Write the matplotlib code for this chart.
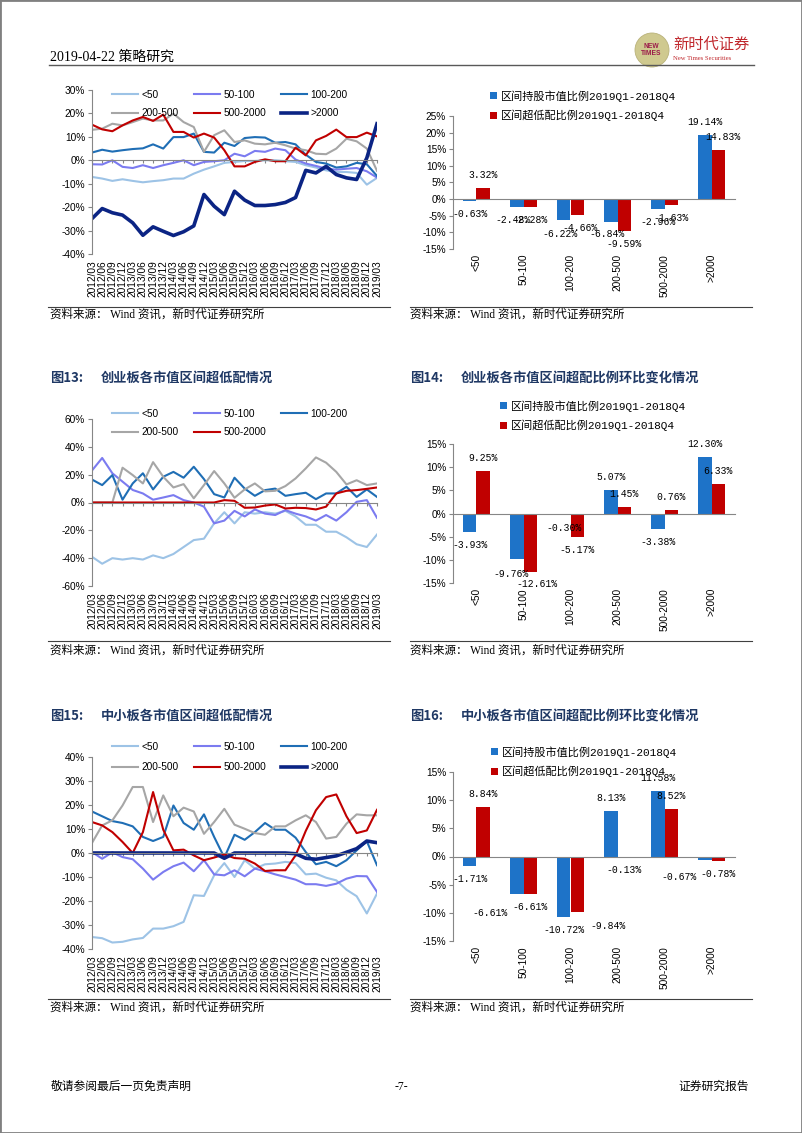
import matplotlib
matplotlib.use('Agg')
import matplotlib.pyplot as plt
import numpy as np
from matplotlib.lines import Line2D
from matplotlib.patches import Ellipse, Rectangle
from matplotlib.ticker import FuncFormatter
from matplotlib.transforms import blended_transform_factory

plt.rcParams['font.family'] = ['Liberation Sans', 'Noto Sans CJK SC']
plt.rcParams['axes.unicode_minus'] = False

# ---- data -------------------------------------------------------------
QUARTERS = ['2012/03', '2012/06', '2012/09', '2012/12', '2013/03', '2013/06',
            '2013/09', '2013/12', '2014/03', '2014/06', '2014/09', '2014/12',
            '2015/03', '2015/06', '2015/09', '2015/12', '2016/03', '2016/06',
            '2016/09', '2016/12', '2017/03', '2017/06', '2017/09', '2017/12',
            '2018/03', '2018/06', '2018/09', '2018/12', '2019/03']
BANDS = ['<50', '50-100', '100-200', '200-500', '500-2000', '>2000']

# top chart (continued from previous page)
ALL_LT50 = [-7.1, -7.8, -8.8, -8.1, -8.8, -9.4, -8.9, -8.5, -7.8, -7.8, -5.7, -4.0, -2.6, -1.1, -0.7,
            -0.3, -0.3, 0.0, 0.0, -0.4, -0.7, -2.1, -3.1, -4.3, -5.0, -5.0, -5.4, -10.4, -7.5]
ALL_50_100 = [-1.7, -1.8, 0.0, -2.8, -3.3, -2.1, -3.3, -2.1, -1.1, 0.0, -2.1, -0.7, -0.4, 0.0, 2.8,
              1.7, 4.0, 3.6, 5.0, 4.3, 0.3, -1.4, -2.4, -3.6, -4.0, -3.6, -3.3, -4.7, -7.4]
ALL_100_200 = [3.3, 4.5, 3.7, 4.3, 4.8, 5.1, 6.8, 5.0, 9.9, 9.9, 11.4, 3.6, 3.3, 7.5, 6.1,
               9.5, 9.9, 9.7, 7.5, 7.8, 6.8, 2.4, -0.7, -1.4, -3.1, -2.6, -1.1, -1.7, -6.7]
ALL_200_500 = [13.0, 13.5, 15.6, 14.9, 16.3, 17.8, 17.0, 17.0, 19.9, 16.3, 14.2, 3.6, 10.7, 12.8, 7.8,
               8.5, 7.1, 6.8, 7.5, 6.4, 5.0, 4.3, 2.8, 2.6, 5.0, 9.2, 8.1, 5.0, -4.5]
ALL_500_2000 = [15.2, 13.2, 12.4, 14.9, 17.0, 18.5, 16.8, 19.5, 12.1, 12.1, 9.7, 11.4, 9.7, 4.3, -2.6,
                -2.6, -0.7, 0.4, -0.4, -0.4, 5.4, 2.1, 8.5, 10.4, 13.1, 9.9, 9.9, 11.8, 10.2]
ALL_GT2000 = [-24.9, -20.6, -22.4, -23.4, -26.7, -32.0, -28.4, -30.3, -32.1, -30.5, -28.0, -14.6, -19.6,
              -23.2, -13.2, -17.0, -19.3, -19.3, -18.9, -18.0, -15.9, -4.3, -5.4, -2.6, -6.1, -7.5,
              -8.2, 1.0, 15.6]

# 创业板
GEM_LT50 = [-39, -44, -40, -41, -40, -41, -38, -40, -37, -32, -27, -26, -15, -7, -15,
            -7, -8, -7, -8, -6, -10, -16, -16, -21, -21, -25, -30, -32, -23]
GEM_50_100 = [23, 32, 21, 15, 9, 6.5, 2, 3.6, 5.3, 1.7, 0, -3, -15, -13, -6,
              -10, -5, -8, -9, -5.5, -8, -10, -13, -9, -13, -7, 0.5, 1.7, -11]
GEM_100_200 = [16.5, 12.5, 19.7, 2, 13.7, 21, 9.4, 18.5, 22, 17.8, 25.7, 16.8, 6, 3.6, 17.8,
               10, 4.8, 8.9, 10, 4.8, 6, 7, 2.4, 6.5, 6.5, 11.3, 4, 9.4, 4]
GEM_200_500 = [0, 0, 0, 25, 19.7, 13.7, 29, 18.5, 10.8, 13.2, 3, 12.5, 22.6, 13.7, 3.4,
               9.4, 13.7, 8, 8.4, 11.8, 17.3, 24.5, 32.4, 28.6, 22, 13, 16, 12.5, 13.7]
GEM_500_2000 = [0, 0, 0, 0, 0, 0, 0, 0, 0, 0, 0, 0, 0, 1.7, 1.2,
                -3.8, -3.6, -2.2, -1.4, -4.3, -3.8, -4.0, -5.0, -3.0, 6.5, 8.4, 8.9, 9.8, 10.8]

# 中小板
SME_LT50 = [-35, -35.5, -37.3, -37, -36, -35.4, -31.5, -31.5, -30.5, -28.7, -17.6, -17.9, -9.3, -4.2,
            -10, -3, -6.5, -4.7, -4.4, -3.7, -4.2, -8.9, -8.6, -10.3, -11.4, -15.3, -18, -25.2, -16.9]
SME_50_100 = [0.4, -2.4, 0.3, -1.7, -2.6, -6.5, -11.1, -7.9, -5.5, -4, -7.6, -3, -8.9, -9.3, -7.2,
              -9.7, -6.5, -7.6, -8.9, -10, -11.1, -13, -13, -13.7, -12.8, -10.7, -9.6, -9.7, -16.2]
SME_100_200 = [17.3, 15.3, 13.3, 12.5, 11.1, 6.7, 5, 6.7, 19.8, 12.5, 9.7, 16.1, 6.7, -1.9, 7.6,
               5.5, 8.7, 12.5, 9.7, 9.7, 6.4, 0.4, -4.7, -3.7, -5.5, -3, 1.1, 4.9, -5.1]
SME_200_500 = [4.2, 11.5, 13.6, 19.8, 27.5, 27.5, 12.9, 24, 15.3, 18.9, 17.3, 8, 12.9, 18.4, 11.8,
               10.1, 8.3, 7.6, 11.1, 11.1, 13.6, 15.7, 12.9, 6, 6.7, 12.2, 16.1, 15.7, 15.7]
SME_500_2000 = [12.9, 11.5, 8.7, 4.6, 0, 8.7, 25.4, 9.7, 1.1, 1.4, -1, -3, -1.9, -0.6, -2.1,
                -2.4, -4.4, -7.5, -7.2, -7.2, -1, 9.2, 17.8, 23.3, 24.4, 15.3, 8.3, 9.4, 18]
SME_GT2000 = [0, 0, 0, 0, 0, 0, 0, 0, 0, 0, 0, 0, 0, -2.2, 0,
              0, 0, 0, 0, 0, -0.3, -2.2, -2.6, -1.9, -1.2, 0.3, 1.8, 5, 4.3]

# bar charts: change 2019Q1 vs 2018Q4
ALL_HELD = [-0.63, -2.48, -6.22, -6.84, -2.96, 19.14]
ALL_TILT = [3.32, -2.28, -4.66, -9.59, -1.63, 14.83]
GEM_HELD = [-3.93, -9.76, -0.30, 5.07, -3.38, 12.30]
GEM_TILT = [9.25, -12.61, -5.17, 1.45, 0.76, 6.33]
SME_HELD = [-1.71, -6.61, -10.72, 8.13, 11.58, -0.67]
SME_TILT = [8.84, -6.61, -9.84, -0.13, 8.52, -0.78]

LEG_HELD = '区间持股市值比例2019Q1-2018Q4'
LEG_TILT = '区间超低配比例2019Q1-2018Q4'

# ---- styles -----------------------------------------------------------
LINE_COLORS = {'<50': '#9dc3e6', '50-100': '#7b7bf0', '100-200': '#1f6eb5',
               '200-500': '#a6a6a6', '500-2000': '#c00000', '>2000': '#0b2484'}
BAR_BLUE = '#1e73c8'
BAR_RED = '#c00000'
AXIS = '#868686'
TITLE = '#1f3864'
SERIF = ['Liberation Serif', 'Noto Sans CJK SC']
CJK = ['Noto Sans CJK SC', 'DejaVu Sans']
MONO = ['Liberation Mono', 'Noto Sans CJK SC']

W, H = 802, 1133
fig = plt.figure(figsize=(W / 100, H / 100), dpi=100)
pct = FuncFormatter(lambda v, p: f'{v:.0f}%')


def fx(px):
    return px / W


def fy(py):
    return 1 - py / H


def add_box(left, top, right, bottom):
    ax = fig.add_axes([fx(left), fy(bottom), (right - left) / W, (bottom - top) / H])
    ax.patch.set_alpha(0)
    return ax


def hline(x0, x1, y, lw=0.8, color='#404040'):
    fig.add_artist(Line2D([fx(x0), fx(x1)], [fy(y), fy(y)],
                          transform=fig.transFigure, lw=lw, color=color))


def style_axes(ax):
    for s in ['top', 'right']:
        ax.spines[s].set_visible(False)
    for s in ['left', 'bottom']:
        ax.spines[s].set_color(AXIS)
        ax.spines[s].set_linewidth(0.8)
    ax.spines['bottom'].set_position(('data', 0))
    ax.tick_params(axis='y', labelsize=7.3, length=3, width=0.8, pad=2, color=AXIS)


def line_chart(box, series, ylim, step, legend_at, spacing):
    ax = add_box(*box)
    x = np.arange(len(QUARTERS))
    handles = []
    for name, values in series:
        h, = ax.plot(x, values, color=LINE_COLORS[name],
                     lw=2.6 if name == '>2000' else 1.5, label=name)
        handles.append(h)
    ax.set_xlim(0, len(QUARTERS) - 1)
    ax.set_ylim(*ylim)
    ax.set_yticks(np.arange(ylim[0], ylim[1] + step, step))
    ax.yaxis.set_major_formatter(pct)
    style_axes(ax)
    ax.set_xticks(x)
    ax.set_xticklabels([])
    ax.tick_params(axis='x', length=2.5, width=0.8, color=AXIS)
    tr = blended_transform_factory(ax.transData, ax.transAxes)
    off = 6 / (box[3] - box[1])
    for i, q in enumerate(QUARTERS):
        ax.text(i, -off, q, transform=tr, rotation=90, ha='center', va='top', fontsize=7.3)
    # legend fills column-wise, reorder so it reads row by row
    order = [i for i in [0, 3, 1, 4, 2, 5] if i < len(handles)]
    ax.legend([handles[i] for i in order], [handles[i].get_label() for i in order],
              loc='upper left', bbox_to_anchor=(fx(legend_at[0]), fy(legend_at[1])),
              bbox_transform=fig.transFigure, ncol=3, frameon=False, fontsize=7.3,
              handlelength=2.6, handletextpad=0.3, columnspacing=1.5,
              labelspacing=spacing, borderpad=0, borderaxespad=0)
    return ax


def bar_chart(box, held, tilt, ylim, legend_at, nudges):
    ax = add_box(*box)
    x = np.arange(len(BANDS))
    w = 0.29
    b1 = ax.bar(x - w / 2, held, w, color=BAR_BLUE, label=LEG_HELD)
    b2 = ax.bar(x + w / 2, tilt, w, color=BAR_RED, label=LEG_TILT)
    ax.set_xlim(-0.5, len(BANDS) - 0.5)
    ax.set_ylim(*ylim)
    ax.set_yticks(np.arange(ylim[0], ylim[1] + 5, 5))
    ax.yaxis.set_major_formatter(pct)
    style_axes(ax)
    ax.set_xticks([])
    for key, bars, vals in (('held', b1, held), ('tilt', b2, tilt)):
        for i, (r, v) in enumerate(zip(bars, vals)):
            dxy = nudges.get((key, i), (0, 13 if v >= 0 else -13))
            ax.annotate(f'{v:.2f}%', (r.get_x() + r.get_width() / 2, v),
                        xytext=dxy, textcoords='offset pixels', ha='center', va='center',
                        fontsize=7, family=MONO)
    tr = blended_transform_factory(ax.transData, ax.transAxes)
    off = 5 / (box[3] - box[1])
    for i, b in enumerate(BANDS):
        ax.text(i, -off, b, transform=tr, rotation=90, ha='center', va='top', fontsize=7.3)
    ax.legend(handles=[b1, b2], loc='upper left',
              bbox_to_anchor=(fx(legend_at[0]), fy(legend_at[1])),
              bbox_transform=fig.transFigure, frameon=False,
              prop={'family': MONO, 'size': 8}, handlelength=0.6, handleheight=0.6,
              handletextpad=0.4, labelspacing=0.72, borderpad=0, borderaxespad=0)
    return ax


# ---- page furniture ---------------------------------------------------
fig.add_artist(Rectangle((0, 0), 1, 1, transform=fig.transFigure, fill=False,
                         edgecolor='#808080', lw=2))
fig.text(fx(50), fy(57), '2019-04-22 策略研究', fontsize=10, family=SERIF, va='center')
fig.add_artist(Ellipse((fx(652), fy(50)), 34 / W, 34 / H, transform=fig.transFigure,
                       facecolor='#cfc98f', edgecolor='#b9b27a', lw=0.6))
fig.text(fx(651), fy(50), 'NEW\nTIMES', fontsize=4.8, weight='bold', color='#9b1b4a',
         ha='center', va='center', linespacing=0.9)
fig.text(fx(673), fy(44), '新时代证券', fontsize=11, family=CJK, color='#c0282d', va='center')
fig.text(fx(673), fy(58), 'New Times Securities', fontsize=4.8, family=SERIF,
         color='#c0282d', va='center')
hline(49, 754, 65, lw=1.0, color='#595959')

fig.text(fx(51), fy(1087), '敬请参阅最后一页免责声明', fontsize=8.5, family=SERIF, va='center')
fig.text(fx(401), fy(1087), '-7-', fontsize=8.5, family=SERIF, va='center', ha='center')
fig.text(fx(749), fy(1087), '证券研究报告', fontsize=8.5, family=SERIF, va='center', ha='right')

SOURCE = '资料来源： Wind 资讯，新时代证券研究所'
for y_line, y_text in ((307, 315), (641, 651), (999, 1008)):
    hline(48, 390, y_line)
    hline(410, 752, y_line)
    fig.text(fx(50), fy(y_text), SOURCE, fontsize=8.3, family=SERIF, va='center')
    fig.text(fx(410), fy(y_text), SOURCE, fontsize=8.3, family=SERIF, va='center')

for x0, y0, num, title in ((50, 378, '图13:', '创业板各市值区间超低配情况'),
                           (410, 378, '图14:', '创业板各市值区间超配比例环比变化情况'),
                           (50, 716, '图15:', '中小板各市值区间超低配情况'),
                           (410, 716, '图16:', '中小板各市值区间超配比例环比变化情况')):
    fig.text(fx(x0), fy(y0), num, fontsize=9.5, weight='bold', color=TITLE,
             family=CJK, va='center')
    fig.text(fx(x0 + 51), fy(y0), title, fontsize=9.5, weight='bold', color=TITLE,
             family=CJK, va='center')

# ---- charts -----------------------------------------------------------
line_chart((92, 90, 377, 254),
           [('<50', ALL_LT50), ('50-100', ALL_50_100), ('100-200', ALL_100_200),
            ('200-500', ALL_200_500), ('500-2000', ALL_500_2000), ('>2000', ALL_GT2000)],
           (-40, 30), 10, (112, 90), 0.8)
bar_chart((453, 116, 735, 249), ALL_HELD, ALL_TILT, (-15, 25), (490, 90),
          {('held', 1): (-4, -13), ('held', 2): (-4, -14), ('tilt', 2): (3, -13),
           ('held', 3): (-4, -12), ('tilt', 5): (5, 13)})

line_chart((92, 419, 377, 586),
           [('<50', GEM_LT50), ('50-100', GEM_50_100), ('100-200', GEM_100_200),
            ('200-500', GEM_200_500), ('500-2000', GEM_500_2000)],
           (-60, 60), 20, (112, 409), 0.8)
bar_chart((453, 444, 735, 583), GEM_HELD, GEM_TILT, (-15, 15), (500, 400),
          {('held', 1): (-6, -15), ('tilt', 1): (7, -12)})

line_chart((92, 757, 377, 949),
           [('<50', SME_LT50), ('50-100', SME_50_100), ('100-200', SME_100_200),
            ('200-500', SME_200_500), ('500-2000', SME_500_2000), ('>2000', SME_GT2000)],
           (-40, 40), 10, (112, 742), 1.0)
bar_chart((453, 772, 735, 941), SME_HELD, SME_TILT, (-15, 15), (491, 746),
          {('held', 1): (-27, -19), ('tilt', 2): (31, -14), ('held', 5): (-26, -17)})

fig.savefig('out.png', dpi=100)
